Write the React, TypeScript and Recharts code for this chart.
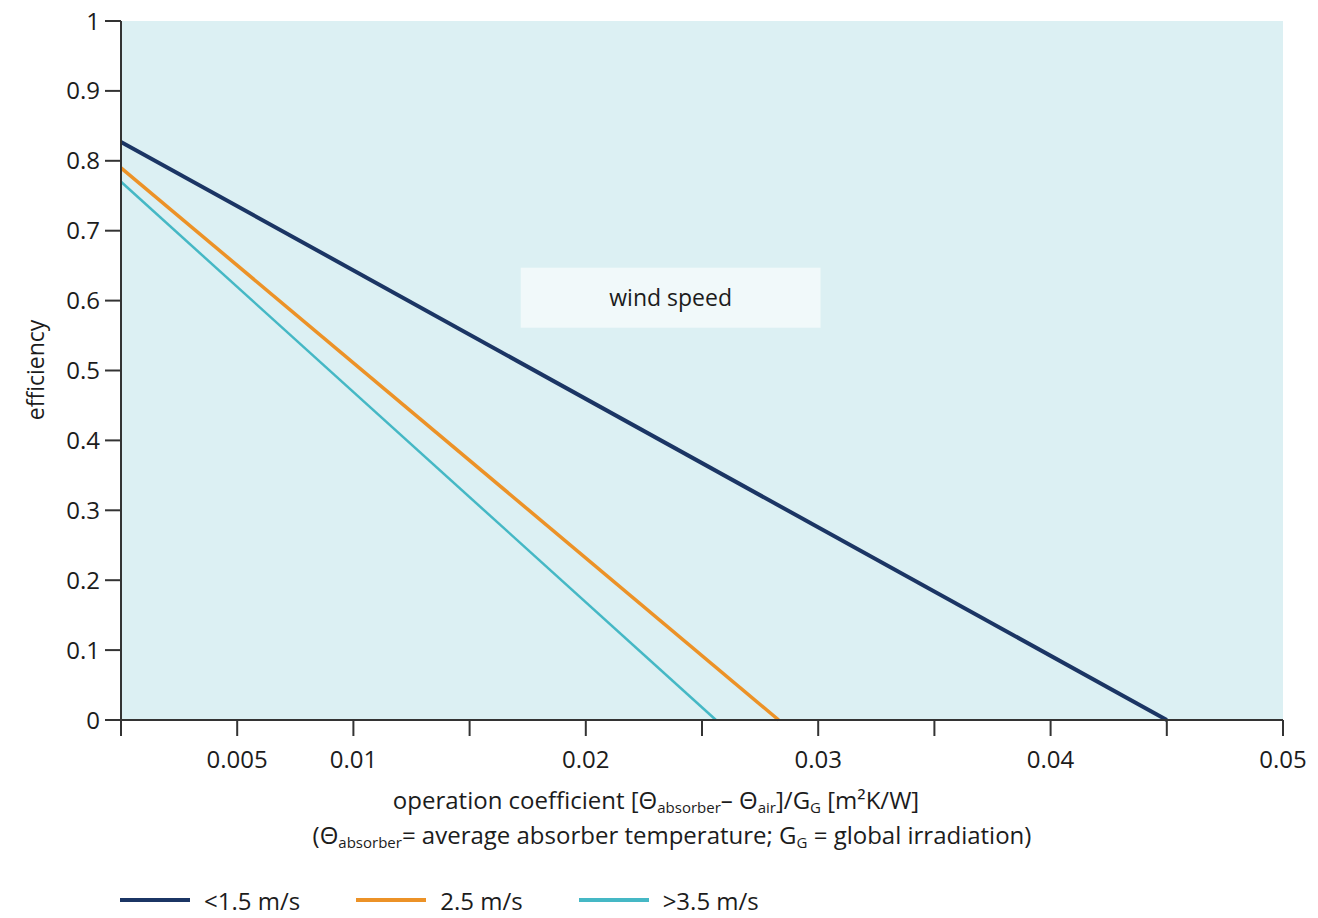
import React from 'react';
import { LineChart, Line, XAxis, YAxis, ReferenceArea, Legend } from 'recharts';

// x axis: operation coefficient, y axis: efficiency
const xTicks = [0, 0.005, 0.01, 0.015, 0.02, 0.025, 0.03, 0.035, 0.04, 0.045, 0.05];
const xTickLabels = ['', '0.005', '0.01', '', '0.02', '', '0.03', '', '0.04', '', '0.05'];
const yTicks = [0, 0.1, 0.2, 0.3, 0.4, 0.5, 0.6, 0.7, 0.8, 0.9, 1];
const yTickLabels = ['0', '0.1', '0.2', '0.3', '0.4', '0.5', '0.6', '0.7', '0.8', '0.9', '1'];

const seriesNames = ['<1.5 m/s', '2.5 m/s', '>3.5 m/s'];
const seriesColors = ['#1b3564', '#ec9227', '#45b8c5'];
const lowWind = [
  { x: 0, y: 0.827 },
  { x: 0.045, y: 0 },
];
const midWind = [
  { x: 0, y: 0.79 },
  { x: 0.0283, y: 0 },
];
const highWind = [
  { x: 0, y: 0.77 },
  { x: 0.0256, y: 0 },
];

// annotation box "wind speed"
const boxX = [0.0172, 0.0301];
const boxY = [0.561, 0.647];

const FONT = "'Open Sans', 'Liberation Sans', sans-serif";
const TEXT = '#1c1c1c';

const XTitle = (props: any) => {
  const { viewBox } = props;
  const top = viewBox.y;
  return (
    <g fontFamily={FONT} fill={TEXT} fontSize={24}>
      <text x={656} y={top + 89} textAnchor="middle">
        operation coefficient [Θ
        <tspan fontSize={15} dy={4}>absorber</tspan>
        <tspan dy={-4}>– Θ</tspan>
        <tspan fontSize={15} dy={4}>air</tspan>
        <tspan dy={-4}>]/G</tspan>
        <tspan fontSize={15} dy={4}>G</tspan>
        <tspan dy={-4}> [m²K/W]</tspan>
      </text>
      <text x={672} y={top + 124} textAnchor="middle">
        (Θ
        <tspan fontSize={15} dy={4}>absorber</tspan>
        <tspan dy={-4}>= average absorber temperature; G</tspan>
        <tspan fontSize={15} dy={4}>G</tspan>
        <tspan dy={-4}> = global irradiation)</tspan>
      </text>
    </g>
  );
};

const YTitle = () => (
  <text
    x={35}
    y={370}
    transform="rotate(-90, 35, 370)"
    textAnchor="middle"
    dominantBaseline="central"
    fontFamily={FONT}
    fontSize={23}
    fill={TEXT}
  >
    efficiency
  </text>
);

const LegendRow = () => (
  <div style={{ display: 'flex', alignItems: 'center', height: 30, paddingLeft: 120, fontFamily: FONT, fontSize: 24, color: TEXT }}>
    {seriesNames.map((name, i) => (
      <div key={name} style={{ display: 'flex', alignItems: 'center', marginRight: 56 }}>
        <svg width={70} height={10} style={{ marginRight: 14 }}>
          <line x1={0} y1={5} x2={70} y2={5} stroke={seriesColors[i]} strokeWidth={4} />
        </svg>
        <span>{name}</span>
      </div>
    ))}
  </div>
);

export default function App() {
  return (
    <div style={{ position: 'absolute', left: 0, top: 0, width: 1318, height: 918, background: '#fff', fontFamily: FONT }}>
      <LineChart width={1318} height={918} margin={{ top: 21, right: 35, left: 0, bottom: 108 }}>
        <ReferenceArea x1={0} x2={0.05} y1={0} y2={1} fill="#dcf0f3" fillOpacity={1} stroke="none" />
        <ReferenceArea
          x1={boxX[0]}
          x2={boxX[1]}
          y1={boxY[0]}
          y2={boxY[1]}
          fill="#f1f9fa"
          fillOpacity={1}
          stroke="none"
          label={{ value: 'wind speed', position: 'center', fontSize: 23, fill: TEXT, fontFamily: FONT }}
        />
        <XAxis
          type="number"
          dataKey="x"
          domain={[0, 0.05]}
          ticks={xTicks}
          interval={0}
          tickFormatter={(v: number) => xTickLabels[xTicks.indexOf(v)] ?? ''}
          tickSize={16}
          tickMargin={15}
          height={60}
          stroke="#333"
          strokeWidth={2}
          tick={{ fill: TEXT, fontSize: 24, fontFamily: FONT }}
          label={{ content: XTitle }}
        />
        <YAxis
          type="number"
          domain={[0, 1]}
          ticks={yTicks}
          interval={0}
          tickFormatter={(v: number) => yTickLabels[yTicks.indexOf(v)] ?? ''}
          tickSize={16}
          tickMargin={5}
          width={121}
          stroke="#333"
          strokeWidth={2}
          tick={{ fill: TEXT, fontSize: 24, fontFamily: FONT }}
          label={{ content: YTitle }}
        />
        <Line data={lowWind} dataKey="y" name={seriesNames[0]} stroke={seriesColors[0]} strokeWidth={4} dot={false} isAnimationActive={false} />
        <Line data={midWind} dataKey="y" name={seriesNames[1]} stroke={seriesColors[1]} strokeWidth={3.5} dot={false} isAnimationActive={false} />
        <Line data={highWind} dataKey="y" name={seriesNames[2]} stroke={seriesColors[2]} strokeWidth={2.5} dot={false} isAnimationActive={false} />
        <Legend content={LegendRow} wrapperStyle={{ position: 'absolute', top: 885, left: 0, width: 1318 }} />
      </LineChart>
    </div>
  );
}
